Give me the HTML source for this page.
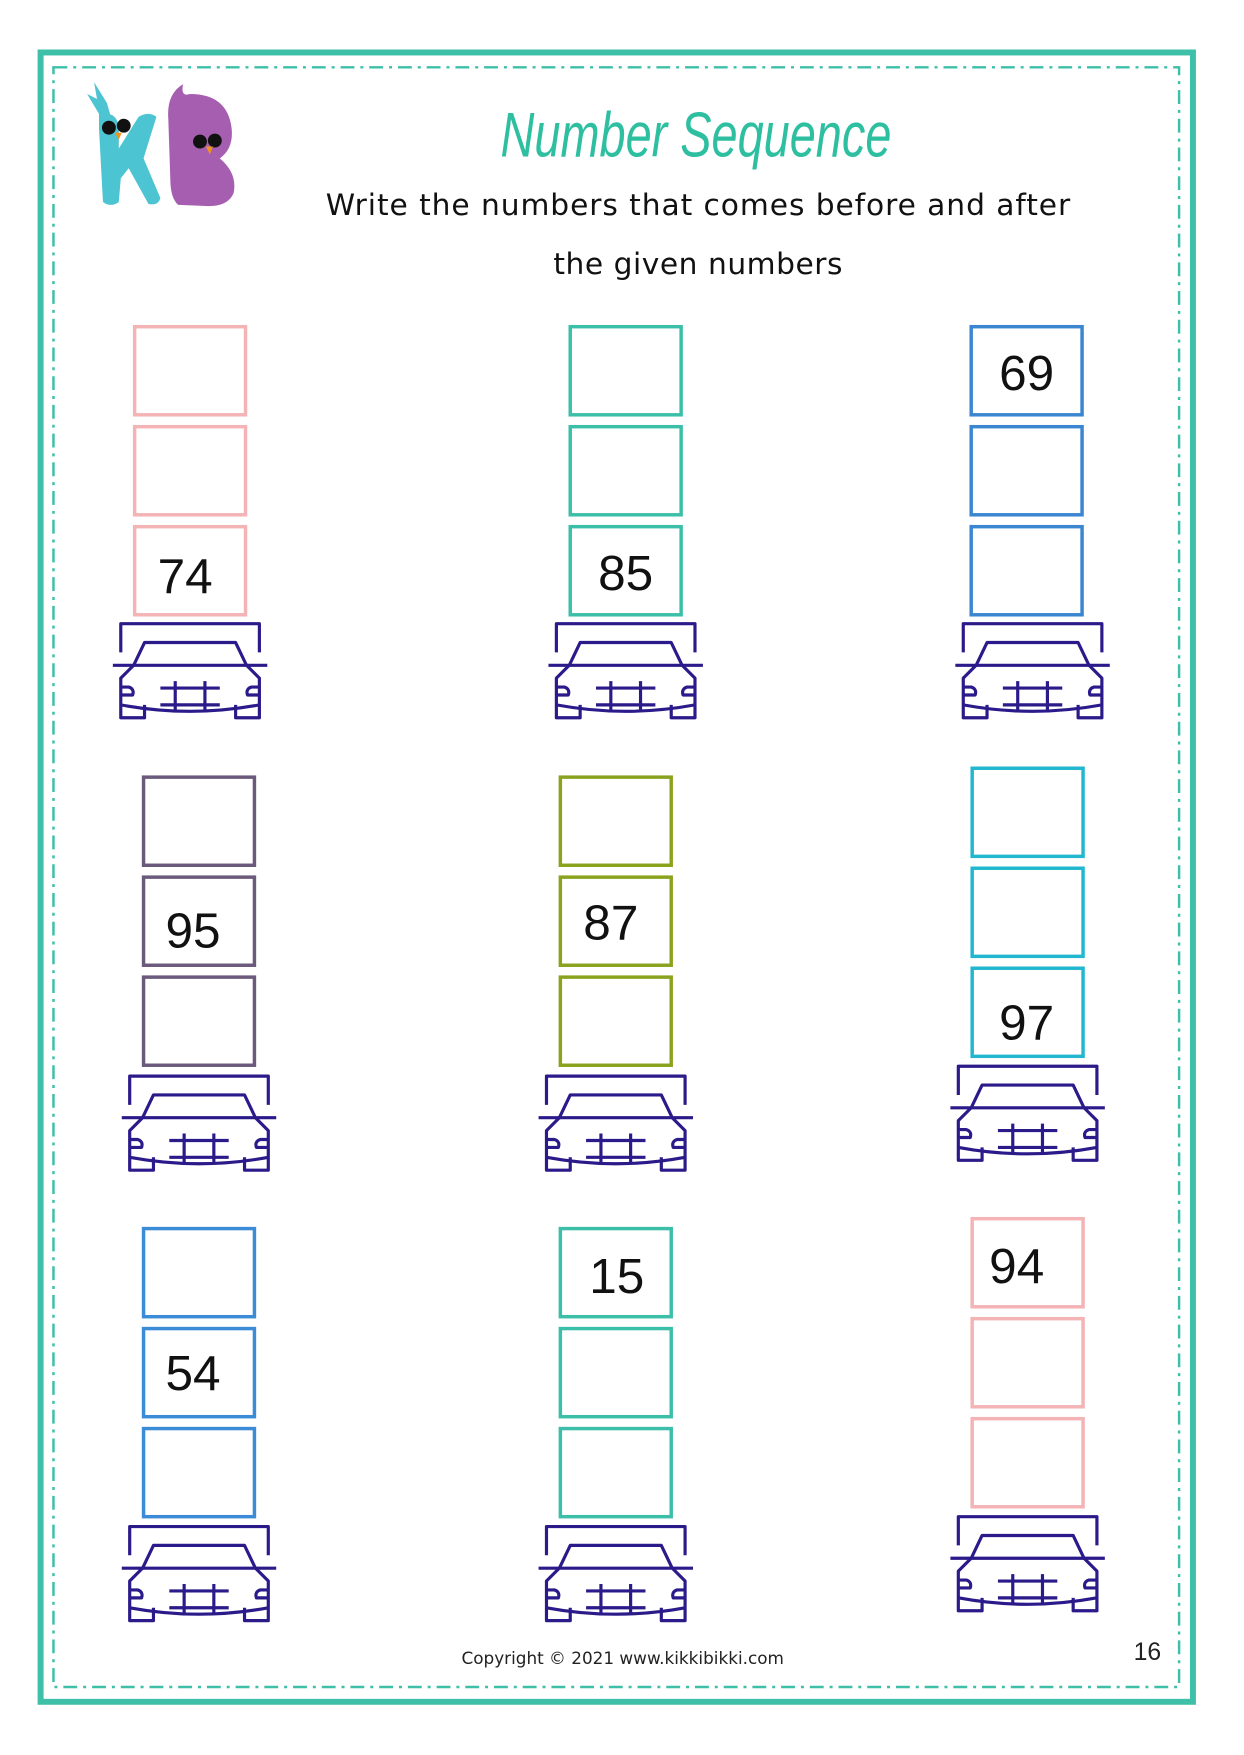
<!DOCTYPE html>
<html><head><meta charset="utf-8"><style>
html,body{margin:0;padding:0;background:#fff;}
svg{display:block;}
</style></head><body>
<svg width="1244" height="1755" viewBox="0 0 1244 1755" xmlns="http://www.w3.org/2000/svg">
<defs>
<g id="car" fill="none" stroke="#2b1a8a" stroke-width="3.2" stroke-linejoin="round">
  <path d="M-70 29 V0 H70 V29"/>
  <path d="M-57 42 L-46 19 H46 L57 42"/>
  <path d="M-78 42 H78"/>
  <path d="M-57 42 L-70 55 V95 H-46 V82 M57 42 L70 55 V95 H46 V82"/>
  <path d="M-70 82 Q0 95 70 82"/>
  <path d="M-70 64 H-62 Q-56 66 -58 72 H-70 M70 64 H62 Q56 66 58 72 H70"/>
  <path d="M-30 65 H30 M-30 82 H30 M-15 58 V88 M15 58 V88"/>
</g>
</defs>
<g transform="scale(0.99)">
<rect x="41" y="53" width="1164" height="1666" fill="none" stroke="#3dbfa8" stroke-width="6"/>
<rect x="54" y="68" width="1137" height="1636" fill="none" stroke="#3dbfa8" stroke-width="2.5" stroke-dasharray="14,6,3,6"/>
<path d="M100 115 L88 95 L98 100 L95 83 L108 104 L112 118 Z" fill="#4cc4d1"/>
<path d="M100 115 Q118 112 120 128 L120 150 L140 118 Q150 112 158 118 L145 160 L162 200 Q160 208 150 206 L130 170 L122 180 L120 204 Q112 210 104 204 L100 130 Z" fill="#4cc4d1"/>
<circle cx="110" cy="129" r="7" fill="#111"/><circle cx="125" cy="127" r="7" fill="#111"/>
<path d="M116 134 L120 141 L123 134 Z" fill="#f0931e"/>
<path d="M170 120 Q168 95 185 85 Q182 98 192 95 Q230 95 234 130 Q236 150 222 160 Q240 175 236 195 Q230 210 205 208 L180 207 Q172 200 172 180 Z" fill="#a65fb0"/>
<circle cx="202" cy="143" r="7" fill="#111"/><circle cx="217" cy="142" r="7" fill="#111"/>
<path d="M208 148 L212 156 L215 148 Z" fill="#f0931e"/>
<text x="703" y="158" text-anchor="middle" font-family="Liberation Sans, sans-serif" font-size="64" font-style="italic" fill="#2dbfa0" transform="translate(703 0) scale(0.74 1) translate(-703 0)">Number Sequence</text>
<text x="705" y="217" text-anchor="middle" font-family="DejaVu Sans, sans-serif" font-size="30" fill="#111" textLength="752">Write the numbers that comes before and after</text>
<text x="705" y="277" text-anchor="middle" font-family="DejaVu Sans, sans-serif" font-size="30" fill="#111" textLength="292">the given numbers</text>
<g fill="none" stroke-width="3.5">
<g stroke="#f4b3b5"><rect x="136" y="330" width="112" height="89"/><rect x="136" y="431" width="112" height="89"/><rect x="136" y="532" width="112" height="89"/></g>
<g stroke="#3cbfa8"><rect x="576" y="330" width="112" height="89"/><rect x="576" y="431" width="112" height="89"/><rect x="576" y="532" width="112" height="89"/></g>
<g stroke="#3a86d0"><rect x="981" y="330" width="112" height="89"/><rect x="981" y="431" width="112" height="89"/><rect x="981" y="532" width="112" height="89"/></g>
<g stroke="#6b5a7b"><rect x="145" y="785" width="112" height="89"/><rect x="145" y="886" width="112" height="89"/><rect x="145" y="987" width="112" height="89"/></g>
<g stroke="#8aa31f"><rect x="566" y="785" width="112" height="89"/><rect x="566" y="886" width="112" height="89"/><rect x="566" y="987" width="112" height="89"/></g>
<g stroke="#21b7cf"><rect x="982" y="776" width="112" height="89"/><rect x="982" y="877" width="112" height="89"/><rect x="982" y="978" width="112" height="89"/></g>
<g stroke="#3b8bd6"><rect x="145" y="1241" width="112" height="89"/><rect x="145" y="1342" width="112" height="89"/><rect x="145" y="1443" width="112" height="89"/></g>
<g stroke="#3cbfa8"><rect x="566" y="1241" width="112" height="89"/><rect x="566" y="1342" width="112" height="89"/><rect x="566" y="1443" width="112" height="89"/></g>
<g stroke="#f4b3b5"><rect x="982" y="1231" width="112" height="89"/><rect x="982" y="1332" width="112" height="89"/><rect x="982" y="1433" width="112" height="89"/></g>
</g>
<g font-family="Liberation Sans, sans-serif" font-size="50" fill="#111" text-anchor="middle">
<text x="187" y="599">74</text>
<text x="632" y="596">85</text>
<text x="1037" y="394">69</text>
<text x="195" y="957">95</text>
<text x="617" y="949">87</text>
<text x="1037" y="1050">97</text>
<text x="195" y="1404">54</text>
<text x="623" y="1306">15</text>
<text x="1027" y="1296">94</text>
</g>
<use href="#car" x="192" y="630"/>
<use href="#car" x="632" y="630"/>
<use href="#car" x="1043" y="630"/>
<use href="#car" x="201" y="1087"/>
<use href="#car" x="622" y="1087"/>
<use href="#car" x="1038" y="1077"/>
<use href="#car" x="201" y="1542"/>
<use href="#car" x="622" y="1542"/>
<use href="#car" x="1038" y="1532"/>
<text x="629" y="1681" text-anchor="middle" font-family="DejaVu Sans, sans-serif" font-size="17" fill="#222">Copyright © 2021 www.kikkibikki.com</text>
<text x="1159" y="1677" text-anchor="middle" font-family="Liberation Sans, sans-serif" font-size="25" fill="#222">16</text>
</g>
</svg>
</body></html>
